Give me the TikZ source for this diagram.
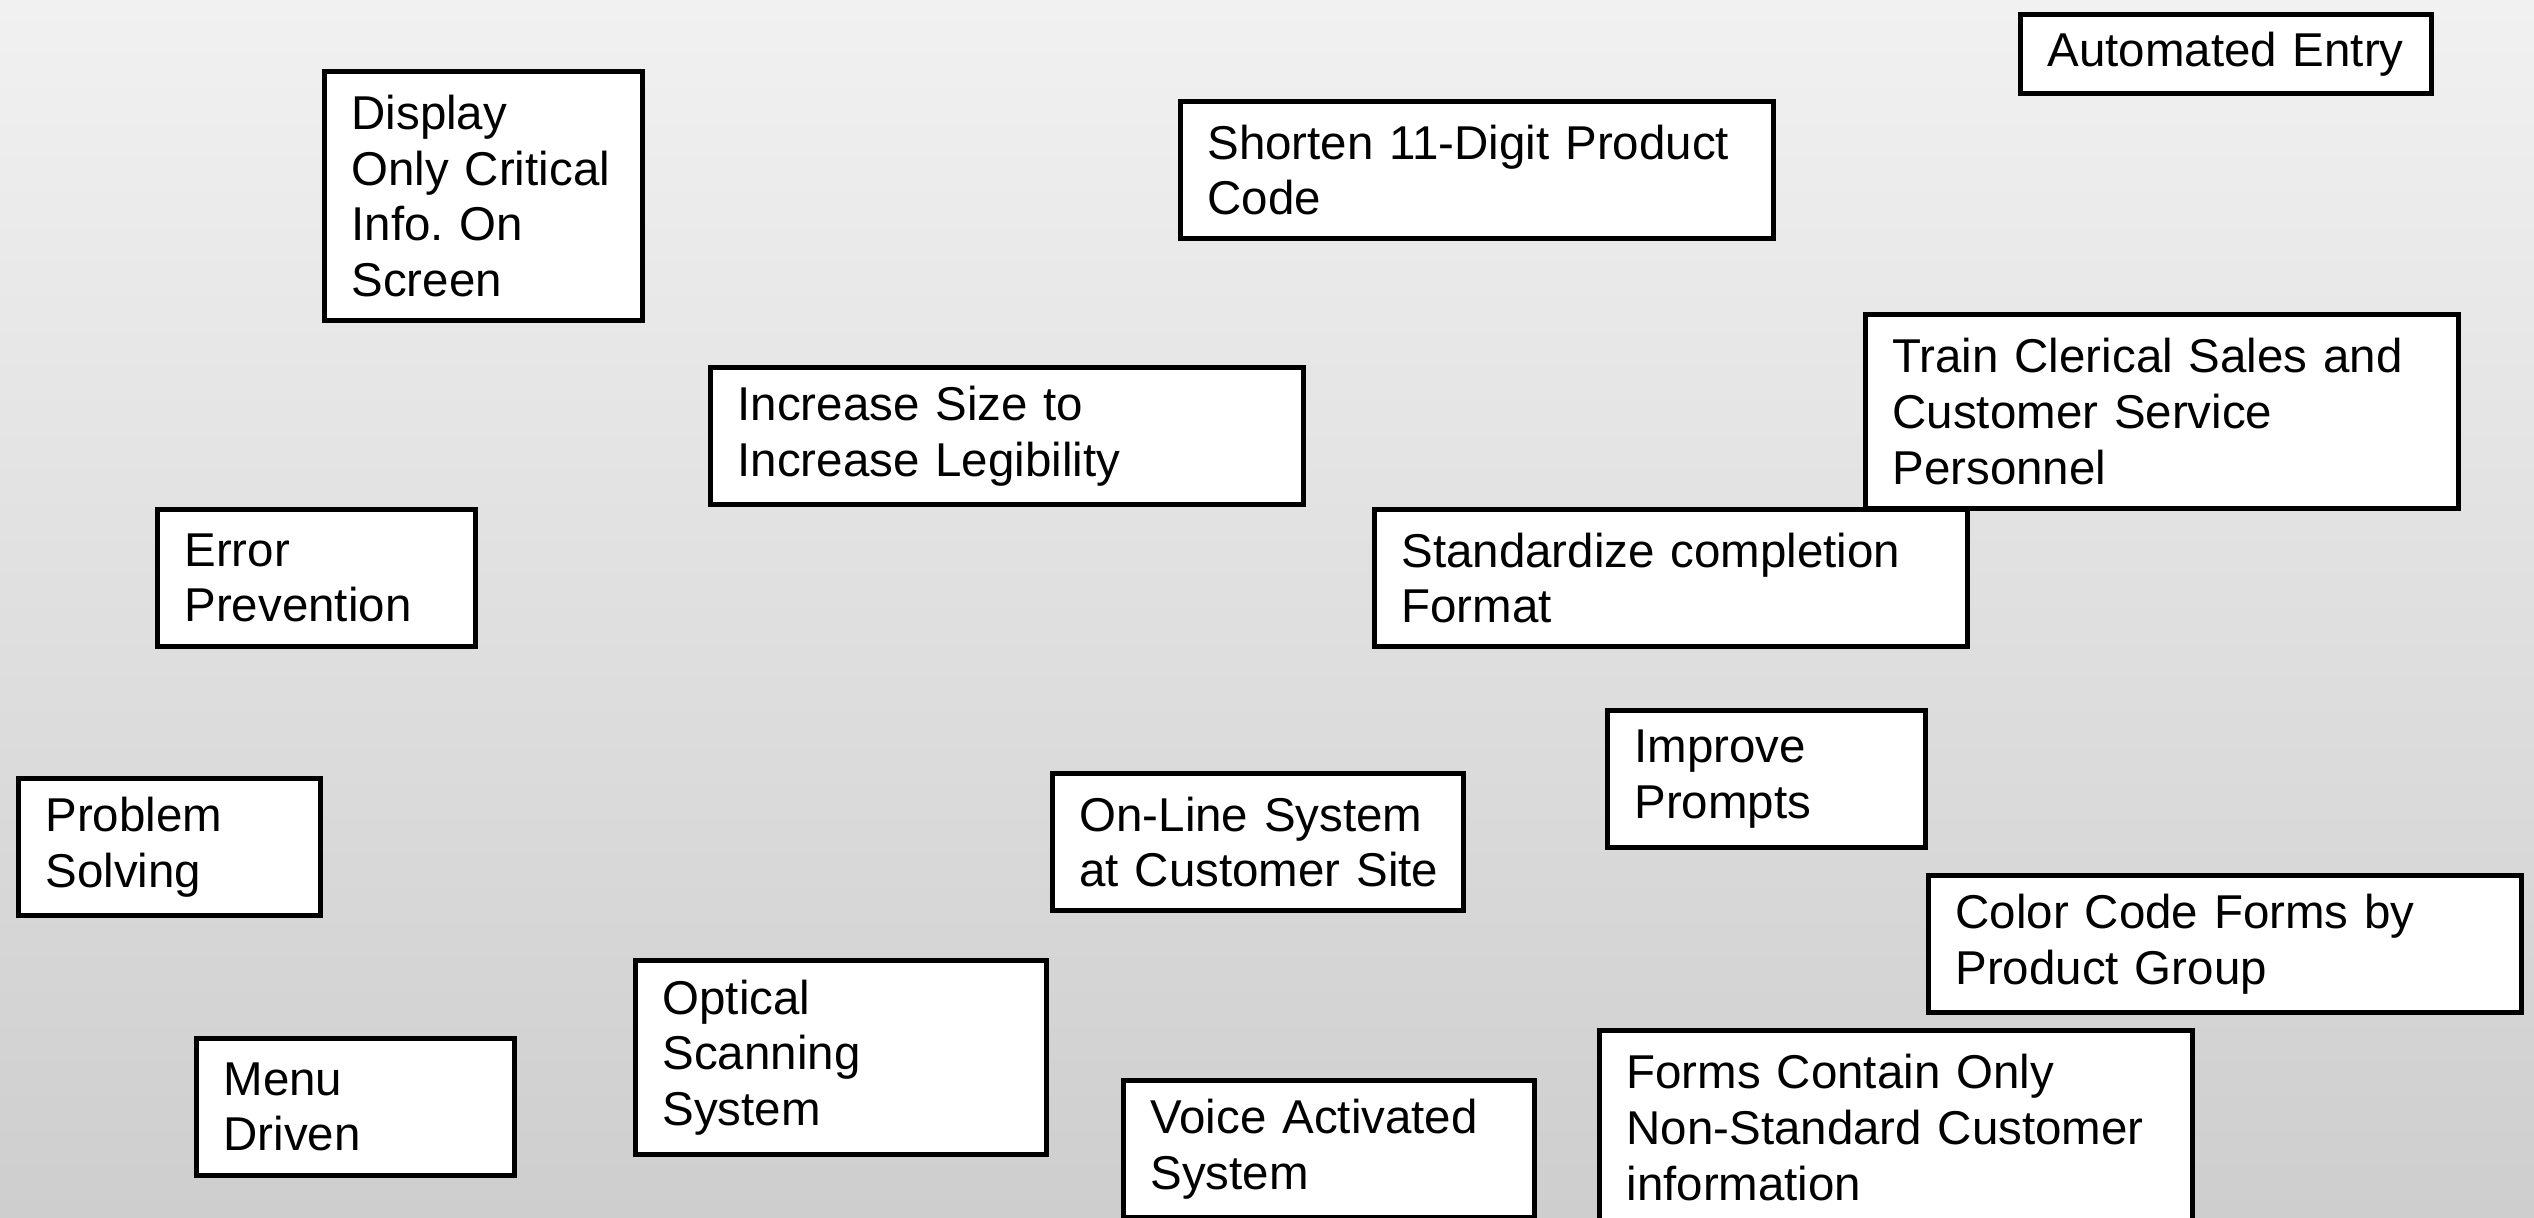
\documentclass[tikz,border=0pt]{standalone}
\usepackage{fontspec}
\setmainfont{Liberation Sans}
\usepackage{tikz}
\frenchspacing

\definecolor{bgtop}{RGB}{241,241,241}
\definecolor{bgbottom}{RGB}{206,206,206}

\begin{document}
\begin{tikzpicture}[x=0.01cm,y=-0.01cm]
    \tikzset{idea/.style = {shape=rectangle,draw,fill=white,line width=1.4pt,
        anchor=north west,align=left,inner xsep=0.27cm,inner ysep=0pt,
        font=\fontsize{13.5}{15.8}\selectfont}}
    \tikzset{narrowbox/.style = {text width=2.64cm}}
    \tikzset{midbox/.style = {text width=3.57cm}}
    \tikzset{widebox/.style = {text width=5.39cm}}
    \tikzset{oneline/.style = {minimum height=0.79cm}}
    \tikzset{twoline/.style = {minimum height=1.37cm}}
    \tikzset{threeline/.style = {minimum height=1.94cm}}
    \tikzset{fourline/.style = {minimum height=2.49cm}}
    % background
    \useasboundingbox (0,0) rectangle (2534,1217);
    \shade[top color=bgtop,bottom color=bgbottom] (0,0) rectangle (2534,1217);
    % boxes, top rows
    \node[idea,narrowbox,fourline] (display) at (322,69) {Display\\Only Critical\\Info. On\\Screen};
    \node[idea,widebox,twoline] (shorten) at (1178,99) {Shorten 11-Digit Product\\Code};
    \node[idea,midbox,oneline] (autoentry) at (2018,12) {Automated Entry};
    \node[idea,widebox,twoline] (legible) at (708,365) {Increase Size to\\Increase Legibility};
    \node[idea,widebox,threeline] (train) at (1863,312) {Train Clerical Sales and\\Customer Service\\Personnel};
    \node[idea,narrowbox,twoline] (errprev) at (155,507) {Error\\Prevention};
    \node[idea,widebox,twoline] (standard) at (1372,507) {Standardize completion\\Format};
    % boxes, lower rows
    \node[idea,narrowbox,twoline] (prompts) at (1605,708) {Improve\\Prompts};
    \node[idea,narrowbox,twoline,text width=2.48cm] (solving) at (16,776) {Problem\\Solving};
    \node[idea,midbox,twoline] (online) at (1050,771) {On-Line System\\\mbox{at Customer Site}};
    \node[idea,widebox,twoline] (colorcode) at (1926,873) {Color Code Forms by\\Product Group};
    \node[idea,midbox,threeline] (optical) at (633,958) {Optical\\Scanning\\System};
    \node[idea,narrowbox,twoline] (menu) at (194,1036) {Menu\\Driven};
    \node[idea,midbox,twoline] (voice) at (1121,1078) {Voice Activated\\System};
    \node[idea,widebox,threeline] (forms) at (1597,1028) {Forms Contain Only\\Non-Standard Customer\\information};
\end{tikzpicture}
\end{document}
